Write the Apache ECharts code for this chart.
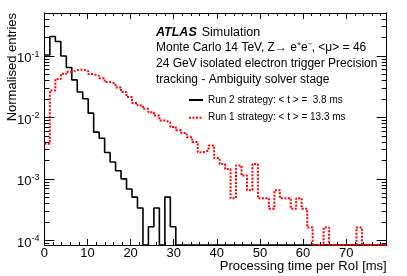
<!DOCTYPE html>
<html><head><meta charset="utf-8">
<script src="https://cdn.jsdelivr.net/npm/echarts@6/dist/echarts.min.js"></script>
<style>html,body{margin:0;padding:0;background:#fff}#c{width:407px;height:276px}</style>
</head><body><div id="c"></div>
<script>
// ---- data ----
const binWidth = 1.27; // ms per histogram bin, first bin starts at 0
const xRange = [0, 79.4];
const yRange = [8.5e-5, 0.5];
const run2Name = 'Run 2 strategy: < t > =  3.8 ms';
const run1Name = 'Run 1 strategy: < t > = 13.3 ms';
const run2Values = [0.104, 0.207, 0.172, 0.100, 0.065, 0.041, 0.026, 0.0202, 0.0118, 0.0058,
  0.0046, 0.0027, 0.0019, 0.00137, 0.00101, 0.00069, 0.00051, 0.00034, 0, 0.000168,
  0.00034, 0, 0.00051, 0.000168, 0, 0, 0, 0, 0, 0,
  0, 0, 0, 0, 0, 0, 0, 0, 0, 0,
  0, 0, 0, 0, 0, 0, 0, 0, 0, 0,
  0, 0, 0, 0, 0, 0, 0, 0, 0, 0,
  0, 0, 0];
const run1Values = [0.00374, 0.0276, 0.0422, 0.0513, 0.0557, 0.059, 0.060, 0.0574, 0.0509, 0.0476,
  0.0434, 0.0377, 0.0355, 0.0309, 0.026, 0.0215, 0.0172, 0.0157, 0.0139, 0.0122,
  0.0108, 0.0090, 0.0084, 0.0070, 0.0062, 0.0056, 0.0048, 0.0040, 0.00274, 0.00291,
  0.00351, 0.0022, 0.00176, 0.00146, 0.00049, 0.00166, 0.00114, 0.00066, 0.00176, 0.00049,
  0.00049, 0.00033, 0.00066, 0.00049, 0.00049, 0.00033, 0.00049, 0.00033, 0.000164, 0,
  0, 0.000164, 0, 0, 0, 0, 0, 0.000164, 0, 0,
  0, 0, 0];
const xTicks = [0, 10, 20, 30, 40, 50, 60, 70];
const xMinorTicks = [2,4,6,8,12,14,16,18,22,24,26,28,32,34,36,38,42,44,46,48,52,54,56,58,62,64,66,68,72,74,76,78];
const yTicks = [1e-4, 1e-3, 1e-2, 1e-1];
const yMinorTicks = [9e-5,
  2e-4,3e-4,4e-4,5e-4,6e-4,7e-4,8e-4,9e-4,
  2e-3,3e-3,4e-3,5e-3,6e-3,7e-3,8e-3,9e-3,
  2e-2,3e-2,4e-2,5e-2,6e-2,7e-2,8e-2,9e-2,
  0.2,0.3,0.4,0.5];
const textLines = ['Monte Carlo 14 TeV, Z\u2192 e\u207Ae\u207B, <\u03BC> = 46',
  '24 GeV isolated electron trigger Precision',
  'tracking - Ambiguity solver stage'];
const xTitle = 'Processing time per RoI [ms]';
const yTitle = 'Normalised entries';

// ---- chart ----
const FONT = 'Liberation Sans, Arial, Helvetica, sans-serif';
function stepData(values) {
  const pts = [];
  for (let k = 0; k < values.length; k++) {
    pts.push([Math.min(k * binWidth, xRange[1]), values[k] > 0 ? values[k] : yRange[0]]);
  }
  const last = values[values.length - 1];
  pts.push([Math.min(values.length * binWidth, xRange[1]), last > 0 ? last : yRange[0]]);
  return pts;
}
const frameLine = { show: true, onZero: false, lineStyle: { color: '#000', width: 1 } };
function xAx(pos, ticks, len, labels) {
  const a = {
    type: 'value', min: xRange[0], max: xRange[1], position: pos,
    axisLine: frameLine, splitLine: { show: false },
    axisTick: { show: true, inside: true, length: len, customValues: ticks, lineStyle: { color: '#000', width: 1 } },
    axisLabel: { show: false }
  };
  if (labels) {
    a.axisLabel = { show: true, customValues: ticks, color: '#000', fontSize: 13, fontFamily: FONT, margin: 2 };
    a.name = xTitle; a.nameLocation = 'end'; a.nameGap = 0;
    a.nameTextStyle = { align: 'right', verticalAlign: 'top', padding: [15, 0, 0, 0], fontSize: 13, fontFamily: FONT, color: '#000' };
  }
  return a;
}
function yAx(pos, ticks, len, labels) {
  const a = {
    type: 'log', logBase: 10, min: yRange[0], max: yRange[1], position: pos,
    axisLine: frameLine, splitLine: { show: false },
    axisTick: { show: true, inside: true, length: len, customValues: ticks, lineStyle: { color: '#000', width: 1 } },
    axisLabel: { show: false }
  };
  if (labels) {
    a.axisLabel = {
      show: true, customValues: ticks, margin: 5,
      formatter: v => '{b|10}{s|' + Math.round(Math.log10(v)) + '}',
      rich: {
        b: { fontSize: 13, lineHeight: 13, fontFamily: FONT, color: '#000', padding: [5, 0, 0, 0] },
        s: { fontSize: 9, lineHeight: 9, fontFamily: FONT, color: '#000', verticalAlign: 'top' }
      }
    };
  }
  return a;
}
const chart = echarts.init(document.getElementById('c'), null, { renderer: 'canvas' });
const titles = [{
  text: '{a|ATLAS} {b|Simulation}', left: 156, top: 23.7, padding: 0,
  textStyle: { fontWeight: 'normal', rich: {
    a: { fontFamily: FONT, fontSize: 12.5, fontWeight: 'bold', fontStyle: 'italic', color: '#000', lineHeight: 16 },
    b: { fontFamily: FONT, fontSize: 12.5, fontWeight: 'normal', color: '#000', lineHeight: 16 } } }
}];
textLines.forEach((t, i) => titles.push({
  text: t, left: 156, top: 39.7 + 16 * i, padding: 0,
  textStyle: { fontFamily: FONT, fontSize: 12, fontWeight: 'normal', color: '#000', lineHeight: 16 }
}));
chart.setOption({
  animation: false,
  backgroundColor: '#fff',
  title: titles,
  grid: { left: 44.4, right: 20.3, top: 13, bottom: 31, containLabel: false, outerBoundsMode: 'none' },
  legend: {
    orient: 'vertical', left: 188, top: 93, padding: 0, itemWidth: 14, itemHeight: 14, itemGap: 3.7,
    selectedMode: false, data: [run2Name, run1Name],
    itemStyle: { color: 'transparent', borderWidth: 0, opacity: 0 },
    textStyle: { fontFamily: FONT, fontSize: 10, color: '#000', lineHeight: 14 }
  },
  graphic: [{
    type: 'text', x: 12, y: 13, rotation: Math.PI / 2,
    style: { text: yTitle, fontFamily: FONT, fontSize: 13, fill: '#000', align: 'right', verticalAlign: 'middle' }
  }],
  xAxis: [xAx('bottom', xTicks, 6, true), xAx('bottom', xMinorTicks, 3, false), xAx('top', xTicks, 6, false), xAx('top', xMinorTicks, 3, false)],
  yAxis: [yAx('left', yTicks, 10, true), yAx('left', yMinorTicks, 5, false), yAx('right', yTicks, 10, false), yAx('right', yMinorTicks, 5, false)],
  series: [
    { name: run2Name, type: 'line', step: 'end', data: stepData(run2Values), symbol: 'none', showSymbol: false, clip: false,
      xAxisIndex: 0, yAxisIndex: 0, lineStyle: { color: '#000', width: 1.6 }, itemStyle: { color: '#000' } },
    { name: run1Name, type: 'line', step: 'end', data: stepData(run1Values), symbol: 'none', showSymbol: false, clip: false,
      xAxisIndex: 0, yAxisIndex: 0, lineStyle: { color: '#ff0000', width: 2, type: [2, 1.5] }, itemStyle: { color: '#ff0000' } }
  ]
});
</script></body></html>
